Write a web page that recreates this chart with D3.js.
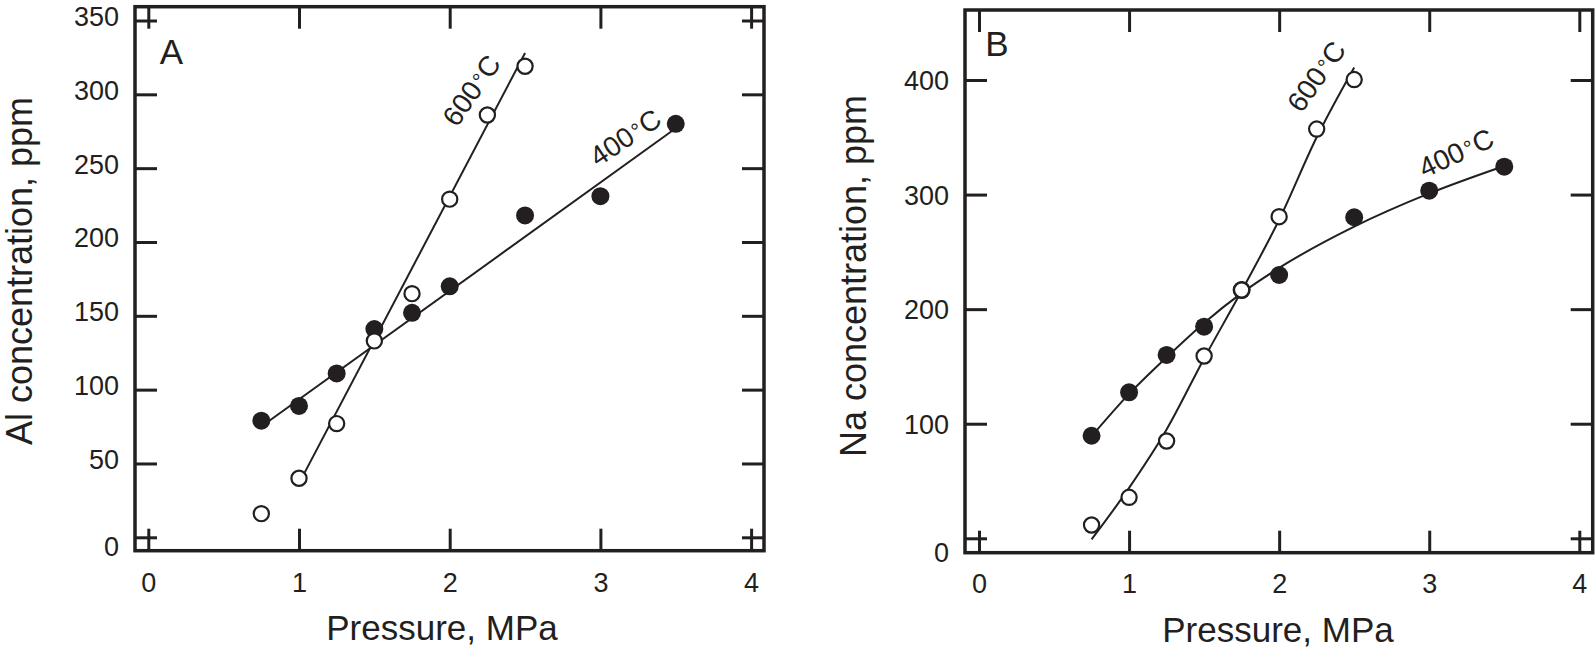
<!DOCTYPE html>
<html><head><meta charset="utf-8">
<script src="https://cdn.jsdelivr.net/npm/d3@7"></script>
<style>html,body{margin:0;padding:0;background:#fff;} svg{display:block;}</style>
</head><body><svg id="c" width="1595" height="651"></svg>
<script>
// ---- data ----
const pressureTicks = [0, 1, 2, 3, 4];
const alTicks = [0, 50, 100, 150, 200, 250, 300, 350];
const naTicks = [0, 100, 200, 300, 400];
const pressure400 = [0.75, 1, 1.25, 1.5, 1.75, 2, 2.5, 3, 3.5];
const pressure600 = [0.75, 1, 1.25, 1.5, 1.75, 2, 2.25, 2.5];
const al400 = [79, 89, 111, 141, 152, 170, 218, 231, 280];
const al600 = [16, 40, 77, 133, 165, 229, 286, 319];
const al400FitP = [0.75, 3.5];
const al400Fit = [75, 277];
const al600FitP = [1.0, 2.5];
const al600Fit = [36.5, 328];
const na400 = [89.5, 127.4, 160, 184.7, 216.7, 229.8, 280.2, 303.4, 324.3];
const na600 = [11.6, 35.8, 84.9, 159.1, 216.7, 280.7, 357.2, 400.4];
const na400FitP = [0.75, 1, 1.25, 1.5, 1.75, 2, 2.5, 3, 3.5];
const na400Fit = [89, 126, 158, 188, 214, 236, 272, 301, 325];
const na600FitP = [0.75, 1, 1.25, 1.5, 1.75, 2, 2.25, 2.5];
const na600Fit = [-1, 44, 95, 157, 216, 278, 350, 411];
const tempLabels = ["400", "600"];
const xTitle = "Pressure, MPa";
const yTitles = ["Al concentration, ppm", "Na concentration, ppm"];
const panelLetters = ["A", "B"];

// ---- drawing ----
const INK = "#231f20";
const FONT = "'Liberation Sans', Arial, Helvetica, sans-serif";
const svg = d3.select("#c");

function zip(a, b) { return a.map((v, i) => [v, b[i]]); }

function drawPanel(cfg) {
  const g = svg.append("g");
  const x = d3.scaleLinear().domain([0, 4]).range([cfg.x0, cfg.x4]);
  const y = d3.scaleLinear().domain([0, cfg.yRef]).range([cfg.y0, cfg.yRefPx]);

  // axes (inward ticks on all four sides)
  function styleAxis(sel) {
    sel.select(".domain").remove();
    sel.selectAll(".tick line").attr("stroke", INK).attr("stroke-width", 3);
    sel.selectAll(".tick text").attr("fill", INK).style("font-family", FONT).style("font-size", "27px");
  }
  const gb = g.append("g").attr("transform", `translate(0,${cfg.b})`)
    .call(d3.axisBottom(x).tickValues(pressureTicks).tickSize(-22).tickSizeOuter(0).tickPadding(0).tickFormat(d3.format("d")));
  styleAxis(gb);
  gb.selectAll(".tick text").attr("y", cfg.xLabY).attr("dy", 0);
  const gt = g.append("g").attr("transform", `translate(0,${cfg.t})`)
    .call(d3.axisTop(x).tickValues(pressureTicks).tickSize(-22).tickSizeOuter(0).tickFormat(""));
  styleAxis(gt);
  const gl = g.append("g").attr("transform", `translate(${cfg.l},0)`)
    .call(d3.axisLeft(y).tickValues(cfg.yTicks).tickSize(-22).tickSizeOuter(0).tickPadding(16).tickFormat(d3.format("d")));
  styleAxis(gl);
  gl.selectAll(".tick text").attr("dy", 0).attr("y", d => d === 0 ? cfg.zeroDy : cfg.labDy);
  const gr = g.append("g").attr("transform", `translate(${cfg.r},0)`)
    .call(d3.axisRight(y).tickValues(cfg.yTicks).tickSize(-22).tickSizeOuter(0).tickFormat(""));
  styleAxis(gr);

  // frame
  g.append("rect").attr("x", cfg.l).attr("y", cfg.t)
    .attr("width", cfg.r - cfg.l).attr("height", cfg.b - cfg.t)
    .attr("fill", "none").attr("stroke", INK).attr("stroke-width", 3.5);

  // fit lines
  const line = d3.line().x(d => x(d[0])).y(d => y(d[1])).curve(cfg.curve);
  [zip(cfg.fit400P, cfg.fit400), zip(cfg.fit600P, cfg.fit600)].forEach(pts => {
    g.append("path").attr("d", line(pts)).attr("fill", "none")
      .attr("stroke", INK).attr("stroke-width", 2);
  });

  // points
  g.selectAll("circle.f").data(zip(pressure400, cfg.v400)).join("circle")
    .attr("class", "f").attr("cx", d => x(d[0])).attr("cy", d => y(d[1]))
    .attr("r", 9).attr("fill", INK);
  g.selectAll("circle.o").data(zip(pressure600, cfg.v600)).join("circle")
    .attr("class", "o").attr("cx", d => x(d[0])).attr("cy", d => y(d[1]))
    .attr("r", 7.6).attr("fill", "#fff").attr("stroke", INK).attr("stroke-width", 2.2);

  // curve labels
  cfg.labels.forEach((lb, i) => {
    const t = g.append("text")
      .attr("transform", `translate(${lb.cx},${lb.cy}) rotate(${-lb.ang})`)
      .attr("text-anchor", "middle").attr("dy", "0.36em")
      .attr("fill", INK).style("font-family", FONT).style("font-size", "28px");
    t.append("tspan").text(tempLabels[lb.k]);
    t.append("tspan").attr("dx", 2).attr("dy", "-0.05em").style("font-size", "22px").text("°");
    t.append("tspan").attr("dx", 1).attr("dy", "0.05em").text("C");
  });

  // panel letter
  g.append("text").attr("x", cfg.letter[0]).attr("y", cfg.letter[1])
    .attr("text-anchor", "middle").attr("fill", INK)
    .style("font-family", FONT).style("font-size", "35px").text(cfg.letterText);

  // axis titles
  g.append("text").attr("x", cfg.xTitle[0]).attr("y", cfg.xTitle[1])
    .attr("text-anchor", "middle").attr("fill", INK)
    .style("font-family", FONT).style("font-size", "35px").text(xTitle);
  g.append("text")
    .attr("transform", `translate(${cfg.yTitle[0]},${cfg.yTitle[1]}) rotate(-90)`)
    .attr("text-anchor", "middle").attr("fill", INK)
    .style("font-family", FONT).style("font-size", "36px").text(cfg.yTitleText);
}

drawPanel({
  l: 135, r: 764, t: 6.7, b: 550.7,
  x0: 148.3, x4: 751.1, y0: 537.3, yRef: 350, yRefPx: 20.5,
  yTicks: alTicks, xLabY: 41, labDy: 5, zeroDy: 18.5,
  v400: al400, v600: al600,
  fit400P: al400FitP, fit400: al400Fit, fit600P: al600FitP, fit600: al600Fit,
  curve: d3.curveLinear,
  labels: [{k: 1, cx: 471, cy: 90, ang: 55.4}, {k: 0, cx: 625, cy: 137, ang: 34}],
  letter: [171.5, 64], letterText: panelLetters[0],
  xTitle: [442, 640], yTitle: [32, 271], yTitleText: yTitles[0]
});

drawPanel({
  l: 965, r: 1592.7, t: 10, b: 552.7,
  x0: 979, x4: 1579.3, y0: 538.3, yRef: 400, yRefPx: 80,
  yTicks: naTicks, xLabY: 40.5, labDy: 9.5, zeroDy: 23.5,
  v400: na400, v600: na600,
  fit400P: na400FitP, fit400: na400Fit, fit600P: na600FitP, fit600: na600Fit,
  curve: d3.curveMonotoneX,
  labels: [{k: 1, cx: 1316, cy: 76, ang: 54.7}, {k: 0, cx: 1456, cy: 152.5, ang: 25}],
  letter: [997, 56], letterText: panelLetters[1],
  xTitle: [1278, 642], yTitle: [866, 276], yTitleText: yTitles[1]
});
</script>
</body></html>
